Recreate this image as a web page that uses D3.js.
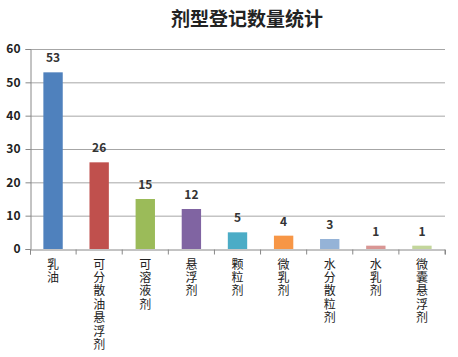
<!DOCTYPE html>
<html><head><meta charset="utf-8">
<script src="https://cdn.jsdelivr.net/npm/d3@7"></script>
<style>body{margin:0;background:#fff}svg{display:block}</style>
</head><body><svg id="c" width="458" height="357"></svg>
<script>
const categories = ["乳油","可分散油悬浮剂","可溶液剂","悬浮剂","颗粒剂","微乳剂","水分散粒剂","水乳剂","微囊悬浮剂"];
const values = [53,26,15,12,5,4,3,1,1];
const colors = ["#4F81BD","#C0504D","#9BBB59","#8064A2","#4BACC6","#F79646","#95B3D7","#D99694","#C3D69B"];
const yTicks = [0,10,20,30,40,50,60];
const title = "剂型登记数量统计";

const svg = d3.select("#c");
const font = "'Noto Sans CJK SC', sans-serif";
const L = 30, R = 445, T = 49, B = 249;
const x = d3.scaleBand().domain(categories).range([L, R]).paddingInner(0.58).paddingOuter(0.29);
const xc = d3.scaleBand().domain(categories).range([L, R]);
const y = d3.scaleLinear().domain([0, 60]).range([B, T]);

svg.append("text").attr("x", 247).attr("y", 26).attr("text-anchor", "middle")
  .attr("font-family", font).attr("font-weight", "bold").attr("font-size", 19).attr("fill", "#222").text(title);

// gridlines
svg.append("g").selectAll("line").data(yTicks.filter(d => d > 0)).join("line")
  .attr("x1", L).attr("x2", R).attr("y1", d => y(d) + 0.5).attr("y2", d => y(d) + 0.5)
  .attr("stroke", "#a6a6a6").attr("stroke-width", 1);

// y axis
const ya = svg.append("g").attr("transform", `translate(${L + 0.5},0)`)
  .call(d3.axisLeft(y).tickValues(yTicks).tickSize(5).tickPadding(5));
ya.select(".domain").attr("stroke", "#888");
ya.selectAll(".tick line").attr("stroke", "#888");
ya.selectAll(".tick text").attr("font-family", font).attr("font-size", 12).attr("fill", "#222").attr("font-weight", "bold");

// bars
svg.append("g").selectAll("rect").data(values).join("rect")
  .attr("x", (d, i) => x(categories[i])).attr("width", x.bandwidth())
  .attr("y", d => y(d)).attr("height", d => B - y(d))
  .attr("fill", (d, i) => colors[i]);

// x axis
const xa = svg.append("g").attr("transform", `translate(0,${B + 0.5})`)
  .call(d3.axisBottom(xc).tickSize(5).tickFormat(""));
xa.select(".domain").attr("stroke", "#888");
xa.selectAll(".tick line").attr("stroke", "#888").attr("transform", d => `translate(${xc.bandwidth() / 2},0)`);
xa.append("line").attr("x1", L + 0.5).attr("x2", L + 0.5).attr("y1", 0).attr("y2", 5).attr("stroke", "#888");

// value labels
svg.append("g").selectAll("text").data(values).join("text")
  .attr("x", (d, i) => xc(categories[i]) + xc.bandwidth() / 2)
  .attr("y", d => y(d) - 10).attr("text-anchor", "middle")
  .attr("font-family", font).attr("font-size", 12).attr("font-weight", "bold").attr("fill", "#333")
  .text(d => d);

// vertical category labels
svg.append("g").selectAll("text").data(categories).join("text")
  .attr("x", c => xc(c) + xc.bandwidth() / 2).attr("y", 258)
  .attr("writing-mode", "vertical-rl")
  .style("writing-mode", "vertical-rl")
  .attr("letter-spacing", 1.4)
  .attr("font-family", font).attr("font-size", 12).attr("fill", "#222")
  .text(c => c);
</script></body></html>
